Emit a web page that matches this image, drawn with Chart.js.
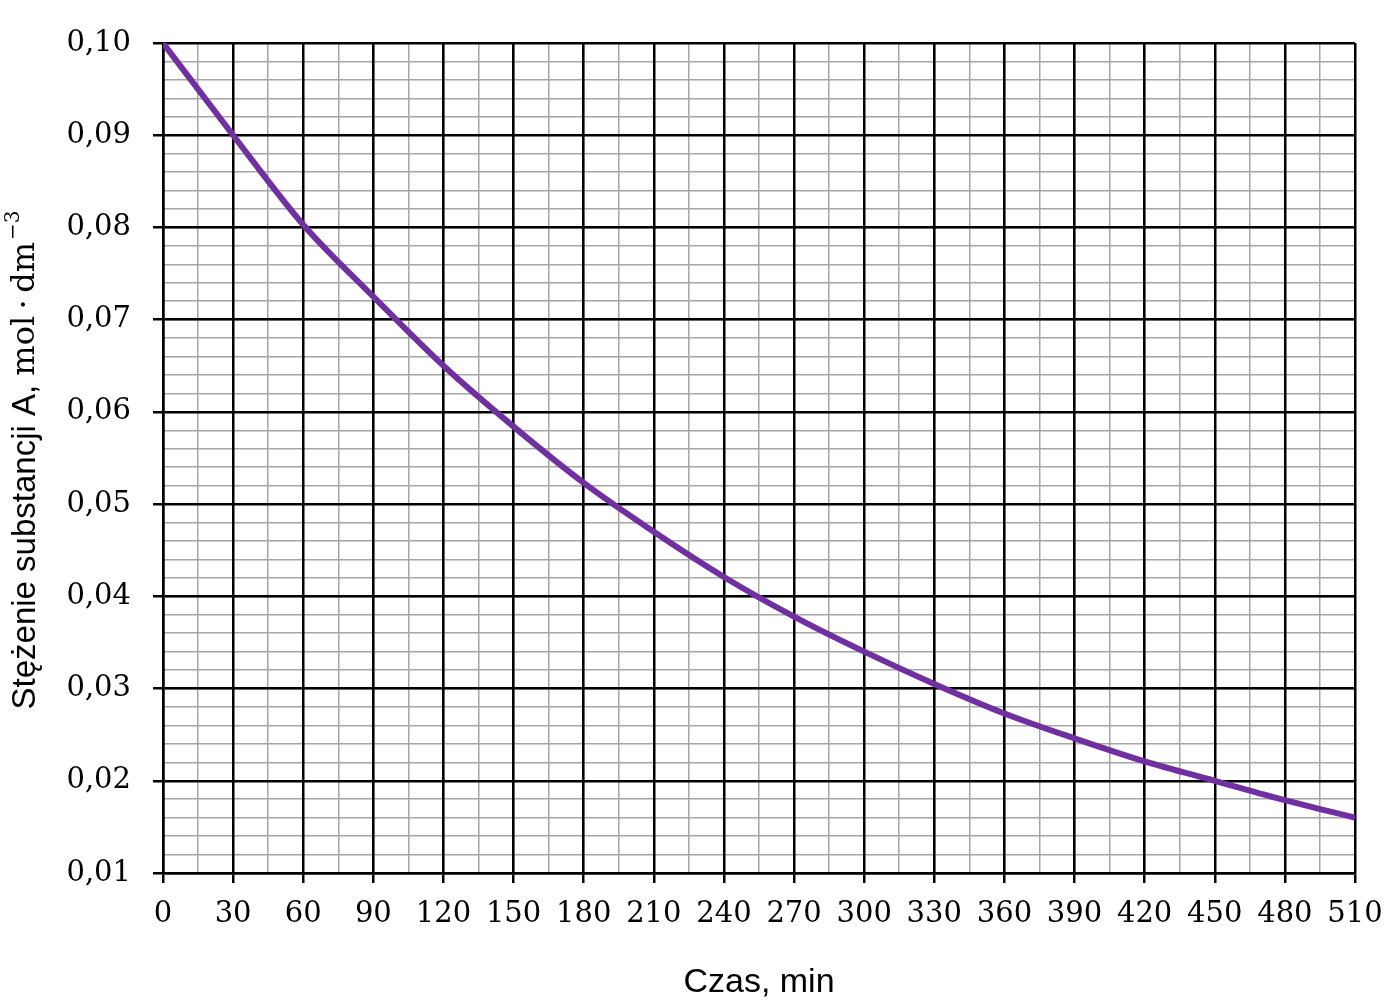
<!DOCTYPE html>
<html>
<head>
<meta charset="utf-8">
<title>Stężenie substancji A</title>
<script src="https://cdn.jsdelivr.net/npm/chart.js@4/dist/chart.umd.min.js"></script>
<style>
  body { margin: 0; background: #fff; }
  canvas { display: block; }
</style>
</head>
<body>
<canvas id="chart" width="1400" height="1006"></canvas>
<script>
// czas w minutach i odczytane stężenia
const times = [0, 30, 60, 90, 120, 150, 180, 210, 240, 270, 300, 330, 360, 390, 420, 450, 480, 510];
const concentrations = [0.100, 0.090, 0.0803, 0.0725, 0.0650, 0.0584, 0.0523, 0.0470, 0.0421, 0.0378,
    0.0340, 0.0305, 0.0273, 0.0246, 0.0221, 0.0200, 0.0179, 0.0160];

const xTitle = 'Czas, min';
// tytuł osi y: część tekstowa (bezszeryfowa) i jednostka (szeryfowa)
const yTitleText = 'Stężenie substancji A, ';
const yTitleUnit = 'mol\u2009·\u2009dm';
const yTitleExp = '−3';

const serif = '"DejaVu Serif", "Liberation Serif", serif';
const sans = '"Liberation Sans", Arial, sans-serif';

const points = times.map((t, i) => ({ x: t, y: concentrations[i] }));

function fmt(v) {
    return v.toFixed(2).replace('.', ',');
}

// rysuje tytuł osi y mieszanymi fontami (jak w oryginale)
const yTitlePlugin = {
    id: 'yTitle',
    afterDraw(chart) {
        const c = chart.ctx;
        c.save();
        c.fillStyle = '#000';
        c.textBaseline = 'middle';
        c.textAlign = 'left';
        const f1 = '33px ' + sans;
        const f2 = '32px ' + serif;
        const f3 = '20px ' + serif;
        c.font = f1; const w1 = c.measureText(yTitleText).width;
        c.font = f2; const w2 = c.measureText(yTitleUnit).width;
        c.font = f3; const w3 = c.measureText(yTitleExp).width;
        const total = w1 + w2 + w3 + 2;
        c.translate(26, 460);
        c.rotate(-Math.PI / 2);
        let x = -total / 2;
        c.font = f1; c.fillText(yTitleText, x, 0); x += w1;
        c.font = f2; c.fillText(yTitleUnit, x, 0); x += w2 + 2;
        c.font = f3; c.fillText(yTitleExp, x, -12);
        c.restore();
    }
};

const ctx = document.getElementById('chart').getContext('2d');
const chart = new Chart(ctx, {
    type: 'line',
    data: {
        datasets: [{
            data: points,
            borderColor: '#7030a0',
            borderWidth: 6,
            pointRadius: 0,
            fill: false,
            cubicInterpolationMode: 'monotone',
            xAxisID: 'x',
            yAxisID: 'y'
        }]
    },
    options: {
        responsive: false,
        animation: false,
        layout: { padding: { top: 43, right: 45, left: 0, bottom: 0 } },
        plugins: { legend: { display: false }, tooltip: { enabled: false } },
        scales: {
            // siatka drobna (szara)
            xMinor: {
                type: 'linear', position: 'bottom', min: 0, max: 510,
                ticks: { display: false, stepSize: 15, autoSkip: false, maxTicksLimit: 100 },
                grid: { color: '#a6a6a6', lineWidth: 1.5, drawTicks: false },
                border: { display: false },
                afterFit: s => { s.height = 0; }
            },
            yMinor: {
                type: 'linear', position: 'left', min: 0.01, max: 0.10,
                ticks: { display: false, stepSize: 0.002, autoSkip: false, maxTicksLimit: 100 },
                grid: { color: '#a6a6a6', lineWidth: 1.5, drawTicks: false },
                border: { display: false },
                afterFit: s => { s.width = 0; }
            },
            // siatka główna (czarna) z opisami
            x: {
                type: 'linear', position: 'bottom', min: 0, max: 510,
                ticks: {
                    stepSize: 30, autoSkip: false, maxRotation: 0, padding: 14,
                    color: '#000', font: { family: serif, size: 29 }
                },
                grid: { color: '#000', lineWidth: 2.5, tickLength: 10 },
                border: { color: '#000', width: 2.5 },
                title: {
                    display: true, text: xTitle, color: '#000',
                    font: { family: sans, size: 34 }, padding: { top: 0, bottom: 3 }
                },
                afterFit: s => { s.height = 133; }
            },
            y: {
                type: 'linear', position: 'left', min: 0.01, max: 0.10,
                ticks: {
                    stepSize: 0.01, autoSkip: false, padding: 22,
                    color: '#000', font: { family: serif, size: 29 },
                    callback: v => fmt(v)
                },
                grid: { color: '#000', lineWidth: 2.5, tickLength: 10 },
                border: { color: '#000', width: 2.5 },
                afterFit: s => { s.width = 163; }
            }
        }
    },
    plugins: [yTitlePlugin]
});
</script>
</body>
</html>
